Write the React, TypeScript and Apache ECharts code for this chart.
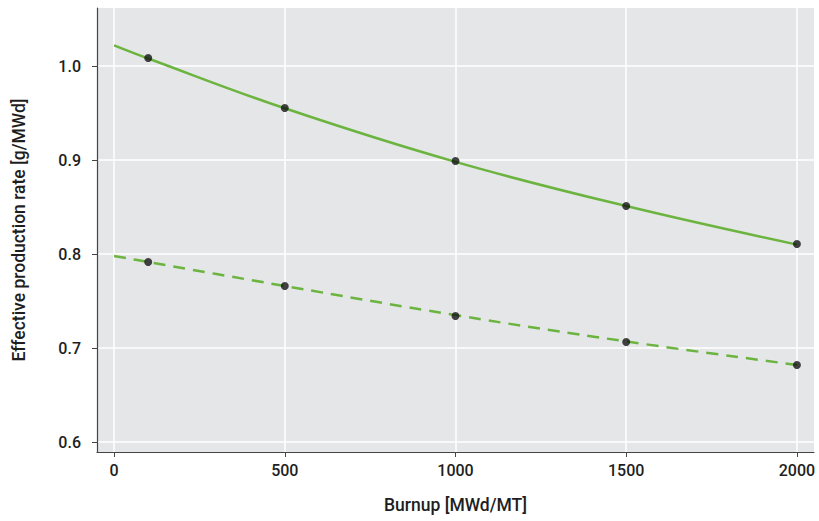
import React, { useEffect, useRef } from "react";
import * as echarts from "echarts";

const burnupFit = [0, 100, 500, 1000, 1500, 2000];
const solidFit = [1.022, 1.008, 0.955, 0.898, 0.851, 0.81];
const dashedFit = [0.798, 0.7915, 0.766, 0.735, 0.707, 0.682];

const burnupPts = [100, 500, 1000, 1500, 2000];
const solidPts = [1.0085, 0.9553, 0.899, 0.851, 0.8106];
const dashedPts = [0.7915, 0.766, 0.734, 0.7064, 0.6819];

const xTicks = [0, 500, 1000, 1500, 2000];
const yTicks = [0.6, 0.7, 0.8, 0.9, 1.0];

const GREEN = "#6bb43f";
const FONT = "Roboto";

export default function App() {
  const ref = useRef<HTMLDivElement>(null);
  useEffect(() => {
    if (!ref.current) return;
    const chart = echarts.init(ref.current, undefined, { renderer: "svg" });
    const zip = (xs: number[], ys: number[]) => xs.map((x, i) => [x, ys[i]]);
    chart.setOption({
      animation: false,
      backgroundColor: "#ffffff",
      textStyle: { fontFamily: FONT },
      grid: {
        left: 97,
        right: 5,
        top: 8,
        bottom: 69,
        show: true,
        backgroundColor: "#e5e6e8",
        borderWidth: 0,
      },
      xAxis: {
        type: "value",
        min: -50,
        max: 2050,
        name: "Burnup [MWd/MT]",
        nameLocation: "middle",
        nameGap: 44,
        nameTextStyle: { fontSize: 17.5, color: "#1e1e1e", fontFamily: FONT, fontWeight: 500 },
        axisLine: { show: true, onZero: false, lineStyle: { color: "#444", width: 1.2 } },
        axisTick: { show: true, length: 5, customValues: xTicks, lineStyle: { color: "#444" } },
        axisLabel: {
          customValues: xTicks,
          fontSize: 16,
          color: "#1e1e1e",
          margin: 10,
          fontFamily: FONT,
          fontWeight: 500,
          formatter: (v: number) => String(v),
        },
        splitLine: { show: true, lineStyle: { color: "#ffffff", width: 1.5 } },
      },
      yAxis: {
        type: "value",
        min: 0.5894,
        max: 1.0617,
        name: "Effective production rate [g/MWd]",
        nameLocation: "middle",
        nameGap: 69,
        nameTextStyle: { fontSize: 17.5, color: "#1e1e1e", fontFamily: FONT, fontWeight: 500 },
        axisLine: { show: true, onZero: false, lineStyle: { color: "#444", width: 1.2 } },
        axisTick: { show: true, length: 5, customValues: yTicks, lineStyle: { color: "#444" } },
        axisLabel: {
          customValues: yTicks,
          fontSize: 16,
          color: "#1e1e1e",
          margin: 16,
          fontFamily: FONT,
          fontWeight: 500,
          formatter: (v: number) => v.toFixed(1),
        },
        splitLine: { show: true, lineStyle: { color: "#ffffff", width: 1.5 } },
      },
      series: [
        {
          type: "line",
          data: zip(burnupFit, solidFit),
          smooth: 0.4,
          showSymbol: false,
          lineStyle: { color: GREEN, width: 2.5 },
          z: 2,
        },
        {
          type: "line",
          data: zip(burnupFit, dashedFit),
          smooth: 0.4,
          showSymbol: false,
          lineStyle: { color: GREEN, width: 2.5, type: [12, 8] },
          z: 2,
        },
        {
          type: "scatter",
          data: zip(burnupPts, solidPts),
          symbolSize: 8,
          itemStyle: { color: "#141414" },
          z: 3,
        },
        {
          type: "scatter",
          data: zip(burnupPts, dashedPts),
          symbolSize: 8,
          itemStyle: { color: "#141414" },
          z: 3,
        },
      ],
    });
    return () => chart.dispose();
  }, []);
  return (
    <div
      ref={ref}
      style={{ position: "fixed", left: 0, top: 0, width: 819, height: 521 }}
    />
  );
}
